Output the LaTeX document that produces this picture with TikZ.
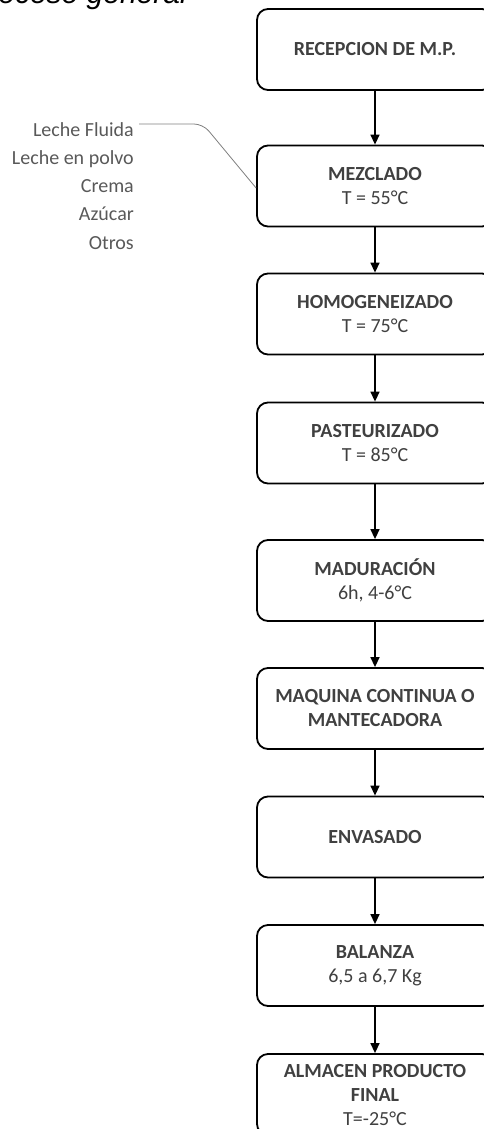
\documentclass[tikz,border=0pt]{standalone}
\usepackage{fontspec}
\setmainfont{Carlito}
\newfontfamily\titlefont{Liberation Sans}
\usetikzlibrary{arrows.meta}
\definecolor{boxtext}{HTML}{404040}
\definecolor{sidetext}{HTML}{595959}
\definecolor{calloutline}{HTML}{7F7F7F}
\begin{document}
\begin{tikzpicture}[x=1pt,y=-1pt,
  stepbox/.style={draw=black,line width=1.8pt,rounded corners=11pt,minimum width=236pt,minimum height=81pt,inner sep=0pt,align=center,text=boxtext,font=\fontsize{20}{24}\selectfont},
  flow/.style={draw=black,line width=1.4pt,-{Triangle[length=10pt,width=9pt]}},
  side/.style={anchor=base east,text=sidetext,font=\fontsize{20}{24}\selectfont,inner sep=0pt},
  callout/.style={draw=calloutline,line width=0.8pt,rounded corners=9pt}]
\useasboundingbox (0,0) rectangle (483,1129);
\node[anchor=base east,inner sep=0pt,font=\titlefont\itshape\fontsize{30}{36}\selectfont] (title) at (187,4) {Proceso general};
\node[stepbox] (b1) at (375,49.5) {\textbf{RECEPCION DE M.P.}};
\node[stepbox] (b2) at (375,186) {\textbf{MEZCLADO}\\T = 55°C};
\node[stepbox] (b3) at (375,314) {\textbf{HOMOGENEIZADO}\\T = 75°C};
\node[stepbox] (b4) at (375,443) {\textbf{PASTEURIZADO}\\T = 85°C};
\node[stepbox] (b5) at (375,580.5) {\textbf{MADURACIÓN}\\6h, 4-6°C};
\node[stepbox] (b6) at (375,708.5) {\textbf{MAQUINA CONTINUA O}\\\textbf{MANTECADORA}};
\node[stepbox] (b7) at (375,837) {\textbf{ENVASADO}};
\node[stepbox] (b8) at (375,965.5) {\textbf{BALANZA}\\6,5 a 6,7 Kg};
\node[stepbox] (b9) at (375,1094.5) {\textbf{ALMACEN PRODUCTO}\\\textbf{FINAL}\\T=-25°C};
\draw[flow] (b1) -- (b2);
\draw[flow] (b2) -- (b3);
\draw[flow] (b3) -- (b4);
\draw[flow] (b4) -- (b5);
\draw[flow] (b5) -- (b6);
\draw[flow] (b6) -- (b7);
\draw[flow] (b7) -- (b8);
\draw[flow] (b8) -- (b9);
\node[side] (s1) at (134,136) {Leche Fluida};
\node[side] (s2) at (134,164.3) {Leche en polvo};
\node[side] (s3) at (134,192.6) {Crema};
\node[side] (s4) at (134,220.9) {Azúcar};
\node[side] (s5) at (134,249.2) {Otros};
\coordinate (cs) at (139,124);
\coordinate (ck) at (203,124);
\draw[callout] (cs) -- (ck) -- ([yshift=-2pt]b2.west);
\end{tikzpicture}
\end{document}
